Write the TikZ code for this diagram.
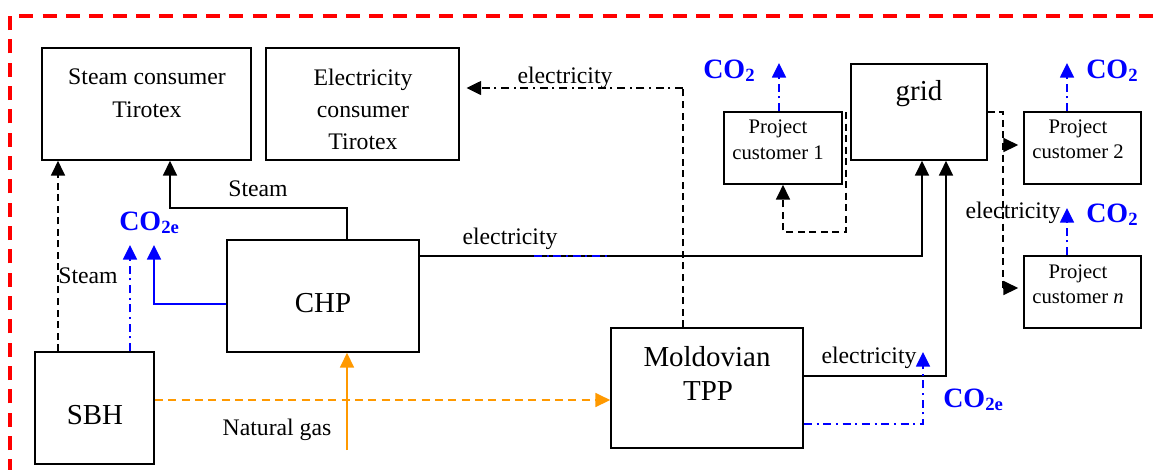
\documentclass[tikz,border=0pt]{standalone}
\usepackage{fontspec}
\setmainfont{Liberation Serif}
\usetikzlibrary{arrows.meta,fit}
\definecolor{frred}{RGB}{255,0,0}
\definecolor{gasor}{RGB}{255,153,0}
\definecolor{cobl}{RGB}{0,0,255}
\newcommand\cotwo[1]{{\fontsize{21}{21}\selectfont\bfseries CO\raisebox{-2.5pt}{\fontsize{14}{14}\selectfont #1}}}
\begin{document}
\begin{tikzpicture}[x=0.75pt,y=-0.75pt,
  box/.style={draw, line width=1.3pt, inner sep=0pt},
  txt/.style={anchor=base, inner sep=0pt, font=\fontsize{17.8}{20}\selectfont},
  big/.style={anchor=base, inner sep=0pt, font=\fontsize{21.7}{24}\selectfont},
  sml/.style={anchor=base, inner sep=0pt, font=\fontsize{15.5}{18}\selectfont},
  colab/.style={anchor=base west, inner sep=0pt, text=cobl},
  tip/.style={-{Triangle[length=11pt,width=10.5pt]}},
  conn/.style={line width=1.3pt},
  dsh/.style={line width=1.2pt, dash pattern=on 5.25pt off 3.4pt},
  dd/.style={line width=1.2pt, dash pattern=on 6pt off 3.5pt on 1.5pt off 3.5pt},
  gasd/.style={line width=1.2pt, dash pattern=on 6pt off 4pt}]
\useasboundingbox (0,0) rectangle (1154,469);
\clip (0,0) rectangle (1154,469);
% frame
\draw[frred, line width=3pt, dash pattern=on 10.5pt off 7pt] (10,520) -- (10,16) -- (1190,16);
% boxes
\node[box, fit={(42,48) (251,160)}] (sc) {};
\node[box, fit={(266,48) (459,160)}] (ec) {};
\node[box, fit={(851,64) (987,160)}] (grid) {};
\node[box, fit={(724,112) (842,184)}] (pc1) {};
\node[box, fit={(1024,112) (1141,184)}] (pc2) {};
\node[box, fit={(1024,256) (1141,328)}] (pcn) {};
\node[box, fit={(227,240) (419,352)}] (chp) {};
\node[box, fit={(35,352) (154,464)}] (sbh) {};
\node[box, fit={(611,328) (803,448)}] (tpp) {};
% box texts
\node[txt] (sc1) at (147,84) {Steam consumer};
\node[txt] (sc2) at (147,117) {Tirotex};
\node[txt] (ec1) at (363,85) {Electricity};
\node[txt] (ec2) at (363,117) {consumer};
\node[txt] (ec3) at (363,149) {Tirotex};
\node[big] (gridt) at (919,100) {grid};
\node[sml] (pc1a) at (778,133) {Project};
\node[sml] (pc1b) at (778,159) {customer 1};
\node[sml] (pc2a) at (1078,133) {Project};
\node[sml] (pc2b) at (1078,158) {customer 2};
\node[sml] (pcna) at (1078,278) {Project};
\node[sml] (pcnb) at (1078,303) {customer \textit{n}};
\node[big] (chpt) at (323,312) {CHP};
\node[big] (sbht) at (95,424) {SBH};
\node[big] (tpp1) at (707,366) {Moldovian};
\node[big] (tpp2) at (708,400) {TPP};
% labels
\node[txt] (lst1) at (258,196) {Steam};
\node[txt] (lst2) at (88,283) {Steam};
\node[txt] (lel1) at (565,83) {electricity};
\node[txt] (lel2) at (510,244) {electricity};
\node[txt] (lel3) at (869,363) {electricity};
\node[txt] (lel4) at (1013,218) {electricity};
\node[txt] (lgas) at (277,435) {Natural gas};
\node[colab] (co1) at (703,78) {\cotwo{2}};
\node[colab] (co2) at (1086,78) {\cotwo{2}};
\node[colab] (co3) at (1086,222) {\cotwo{2}};
\node[colab] (co4) at (119,230) {\cotwo{2e}};
\node[colab] (co5) at (943,407) {\cotwo{2e}};
% coordinates
\coordinate (ecorner) at (683,88);
\coordinate (g1) at (846,112);
\coordinate (gasin) at (347,450);
\coordinate (bl1) at (534,256);
\coordinate (bl2) at (607,256);
% connectors
\draw[dsh,tip] (58,0 |- sbh.north) -- (58,0 |- sc.south);
\draw[dd,cobl,tip] (130,0 |- sbh.north) -- (130,245);
\draw[conn,cobl,tip] (chp.west |- 0,304) -| (154,245);
\draw[conn,tip] (347,0 |- chp.north) |- (170,208) -- (170,0 |- sc.south);
\draw[conn,tip] (chp.east |- 0,256) -| (922,0 |- grid.south);
\draw[dd,cobl] (bl1) -- (bl2);
\draw[conn,tip] (tpp.east |- 0,376) -| (946,0 |- grid.south);
\draw[dsh] (683,0 |- tpp.north) -- (ecorner);
\draw[dd,tip,shorten >=5pt] (ecorner) -- (ec.east |- ecorner);
\draw[dd,cobl,tip] (tpp.east |- 0,424) -| (923,352);
\draw[conn,gasor,tip] (gasin) -- (347,0 |- chp.south);
\draw[gasd,gasor,tip] (sbh.east |- 0,400) -- (tpp.west |- 0,400);
\draw[dsh,tip] (g1) |- (783,232) -- (783,0 |- pc1.south);
\draw[dsh] (grid.east |- 0,112) -| (1003,288);
\draw[line width=1.2pt,tip,shorten >=3.75pt] (1003,145) -- (pc2.west |- 0,145);
\draw[line width=1.2pt,tip,shorten >=3.75pt] (1003,288) -- (pcn.west |- 0,288);
\draw[dd,cobl,tip] (779,0 |- pc1.north) -- (779,63);
\draw[dd,cobl,tip] (1067,0 |- pc2.north) -- (1067,63);
\draw[dd,cobl,tip] (1067,0 |- pcn.north) -- (1067,208);
\end{tikzpicture}
\end{document}
